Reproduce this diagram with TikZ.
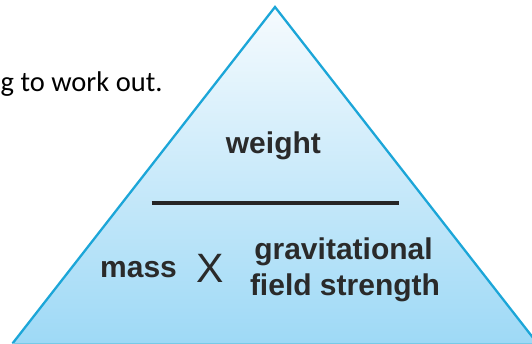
\documentclass[tikz,border=0pt]{standalone}
\usepackage{fontspec}
\setmainfont{Liberation Sans}
\newfontfamily\calib{Carlito}
\definecolor{edgeblue}{RGB}{28,166,216}
\definecolor{topfill}{RGB}{246,251,254}
\definecolor{botfill}{RGB}{158,217,246}
\definecolor{inkgrey}{RGB}{42,42,42}
\begin{document}
\begin{tikzpicture}[x=1pt,y=-1pt,
  lbl/.style={inner sep=0pt,text=inkgrey,font=\fontsize{30}{35}\selectfont\bfseries},
  cross/.style={inner sep=0pt,text=inkgrey,font=\fontsize{41}{41}\selectfont},
  note/.style={inner sep=0pt,text=black,font=\calib\fontsize{28.5}{34}\selectfont}]
\useasboundingbox (0,0) rectangle (532,344);
\clip (0,0) rectangle (532,344);
\coordinate (apex) at (275,7);
\coordinate (bl) at (12.5,343.5);
\coordinate (br) at (537.5,343.5);
\shade[top color=topfill,bottom color=botfill] (apex) -- (br) -- (bl) -- cycle;
\draw[edgeblue,line width=2.3pt,line join=miter] (bl) -- (apex) -- (br);
\draw[edgeblue!60,line width=1.5pt] (bl) -- (br);
\node[note,anchor=base west] (txt) at (0.5,92) {g to work out.};
\node[lbl,anchor=base] (w) at (273.4,153.7) {weight};
\coordinate (la) at (151.7,203.5);
\coordinate (lb) at (399,203.5);
\draw[inkgrey!90!black,line width=4pt] (la) -- (lb);
\node[lbl,anchor=base west] (m) at (100,278) {mass};
\node[cross,anchor=base] (x) at (210,283) {X};
\node[lbl,anchor=base] (g) at (343.5,260) {gravitational};
\node[lbl,anchor=base] (f) at (345,295) {field strength};
\end{tikzpicture}
\end{document}
